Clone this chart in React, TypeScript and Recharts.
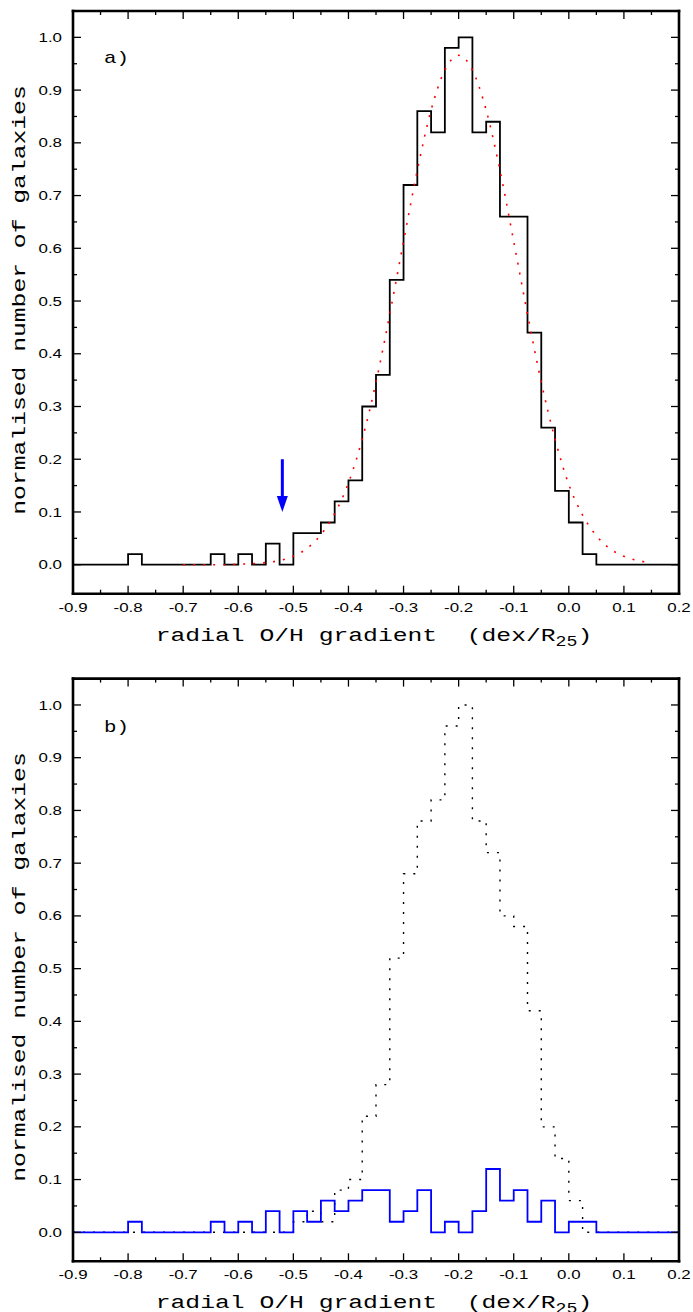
import React from 'react';
import { ComposedChart, Line, XAxis, YAxis, ReferenceLine, ReferenceDot, Customized } from 'recharts';

// bin edges (0.025 dex/R25 bins) from -0.9 to 0.2
const binEdges = [
  -0.9, -0.875, -0.85, -0.825, -0.8, -0.775, -0.75, -0.725, -0.7, -0.675,
  -0.65, -0.625, -0.6, -0.575, -0.55, -0.525, -0.5, -0.475, -0.45, -0.425,
  -0.4, -0.375, -0.35, -0.325, -0.3, -0.275, -0.25, -0.225, -0.2, -0.175,
  -0.15, -0.125, -0.1, -0.075, -0.05, -0.025, 0, 0.025, 0.05, 0.075,
  0.1, 0.125, 0.15, 0.175, 0.2,
];

// panel a: full sample histogram (value of the bin starting at each edge)
const histA = [
  0, 0, 0, 0, 0.02, 0, 0, 0, 0, 0,
  0.02, 0, 0.02, 0, 0.04, 0, 0.06, 0.06, 0.08, 0.12,
  0.16, 0.30, 0.36, 0.54, 0.72, 0.86, 0.82, 0.98, 1.0, 0.82,
  0.84, 0.66, 0.66, 0.44, 0.26, 0.14, 0.08, 0.02, 0, 0,
  0, 0, 0, 0, 0,
];

// panel a: gaussian fit (red dotted), read at these x positions
const fitX = [
  -0.7, -0.675, -0.65, -0.625, -0.6, -0.575, -0.55, -0.525, -0.5, -0.475,
  -0.45, -0.425, -0.4, -0.375, -0.35, -0.325, -0.3, -0.275, -0.25, -0.225,
  -0.2, -0.175, -0.15, -0.125, -0.1, -0.075, -0.05, -0.025, 0, 0.025,
  0.05, 0.075, 0.1, 0.125, 0.15,
];
const fitY = [
  0.0, 0.0, 0.0, 0.0, 0.001, 0.002, 0.004, 0.008, 0.016, 0.031,
  0.057, 0.097, 0.155, 0.238, 0.346, 0.475, 0.613, 0.748, 0.862, 0.938,
  0.966, 0.938, 0.862, 0.748, 0.613, 0.475, 0.346, 0.238, 0.152, 0.094,
  0.055, 0.03, 0.016, 0.008, 0.004,
];

// panel b: comparison histogram (black dotted)
const histB = [
  0, 0, 0, 0, 0, 0, 0, 0, 0, 0,
  0, 0, 0, 0, 0, 0, 0.02, 0.04, 0.02, 0.08,
  0.10, 0.22, 0.28, 0.52, 0.68, 0.78, 0.82, 0.96, 1.0, 0.78,
  0.72, 0.60, 0.58, 0.42, 0.20, 0.14, 0.06, 0, 0, 0,
  0, 0, 0, 0, 0,
];

// panel b: sub-sample histogram (blue)
const histBlue = [
  0, 0, 0, 0, 0.02, 0, 0, 0, 0, 0,
  0.02, 0, 0.02, 0, 0.04, 0, 0.04, 0.02, 0.06, 0.04,
  0.06, 0.08, 0.08, 0.02, 0.04, 0.08, 0, 0.02, 0, 0.04,
  0.12, 0.06, 0.08, 0.02, 0.06, 0, 0.02, 0.02, 0, 0,
  0, 0, 0, 0, 0,
];

const xTicks = [
  -0.9, -0.85, -0.8, -0.75, -0.7, -0.65, -0.6, -0.55, -0.5, -0.45, -0.4, -0.35,
  -0.3, -0.25, -0.2, -0.15, -0.1, -0.05, 0, 0.05, 0.1, 0.15, 0.2,
];
const yTicks = [
  0, 0.05, 0.1, 0.15, 0.2, 0.25, 0.3, 0.35, 0.4, 0.45, 0.5,
  0.55, 0.6, 0.65, 0.7, 0.75, 0.8, 0.85, 0.9, 0.95, 1.0,
];

const arrowX = -0.52;
const arrowFrom = 0.2;
const arrowTo = 0.1;

const fitMap = new Map<number, number>(fitX.map((x, i) => [x, fitY[i]]));
const dataA = binEdges.map((x, i) => ({ x, hist: histA[i], fit: fitMap.has(x) ? fitMap.get(x) : null }));
const dataB = binEdges.map((x, i) => ({ x, other: histB[i], sub: histBlue[i] }));

const W = 693;
const X_DOMAIN: [number, number] = [-0.9, 0.2];
const Y_DOMAIN: [number, number] = [-0.055, 1.05];
const SANS = '"Liberation Sans", Arial, sans-serif';
const MONO = '"Liberation Mono", "Courier New", monospace';
const SX = 1.3;

const isMajor = (v: number) => Math.abs(v * 10 - Math.round(v * 10)) < 1e-6;
const fmt = (v: number) => (Math.abs(v) < 1e-9 ? 0 : v).toFixed(1);

const BottomTick = (p: any) => {
  const { x, y, payload } = p;
  const major = isMajor(payload.value);
  return (
    <g>
      <line x1={x} y1={y} x2={x} y2={y - (major ? 8 : 4)} stroke="#000" strokeWidth={1.3} />
      {major && (
        <text transform={`translate(${x},${y + 18}) scale(${SX},1)`} textAnchor="middle" fontFamily={SANS} fontSize={13} fill="#000">
          {fmt(payload.value)}
        </text>
      )}
    </g>
  );
};
const TopTick = (p: any) => {
  const { x, y, payload } = p;
  const major = isMajor(payload.value);
  return <line x1={x} y1={y} x2={x} y2={y + (major ? 8 : 4)} stroke="#000" strokeWidth={1.3} />;
};
const LeftTick = (p: any) => {
  const { x, y, payload } = p;
  const major = isMajor(payload.value);
  return (
    <g>
      <line x1={x} y1={y} x2={x + (major ? 8 : 4)} y2={y} stroke="#000" strokeWidth={1.3} />
      {major && (
        <text transform={`translate(${x - 11},${y + 4.6}) scale(${SX},1)`} textAnchor="end" fontFamily={SANS} fontSize={13} fill="#000">
          {fmt(payload.value)}
        </text>
      )}
    </g>
  );
};
const RightTick = (p: any) => {
  const { x, y, payload } = p;
  const major = isMajor(payload.value);
  return <line x1={x} y1={y} x2={x - (major ? 8 : 4)} y2={y} stroke="#000" strokeWidth={1.3} />;
};

const frameLine = { stroke: '#000', strokeWidth: 2.6, strokeLinecap: 'square' as const };

const Axes = () => null;

function axesFor() {
  return [
    <XAxis key="xb" xAxisId={0} dataKey="x" type="number" domain={X_DOMAIN} ticks={xTicks} interval={0} allowDataOverflow
      height={30} tickSize={0} tickMargin={0} tickLine={false} axisLine={frameLine} tick={<BottomTick />} />,
    <XAxis key="xt" xAxisId="top" orientation="top" dataKey="x" type="number" domain={X_DOMAIN} ticks={xTicks} interval={0} allowDataOverflow
      height={5} tickSize={0} tickMargin={0} tickLine={false} axisLine={frameLine} tick={<TopTick />} />,
    <YAxis key="yl" yAxisId={0} type="number" domain={Y_DOMAIN} ticks={yTicks} interval={0} allowDataOverflow
      width={40} tickSize={0} tickMargin={0} tickLine={false} axisLine={frameLine} tick={<LeftTick />} />,
    <YAxis key="yr" yAxisId="right" orientation="right" type="number" domain={Y_DOMAIN} ticks={yTicks} interval={0} allowDataOverflow
      width={5} tickSize={0} tickMargin={0} tickLine={false} axisLine={frameLine} tick={<RightTick />} />,
  ];
}

const Titles = ({ xTitleY, yTitleY, tag, tagY }: { xTitleY: number; yTitleY: number; tag: string; tagY: number }) => (
  <g>
    <text
      transform={`translate(374,${xTitleY}) scale(${SX},1)`}
      textAnchor="middle" fontFamily={MONO} fontSize={19} fill="#000"
      xmlSpace="preserve" style={{ whiteSpace: 'pre' }}
    >
      {'radial O/H gradient  (dex/R'}
      <tspan dy={5} fontSize={14}>25</tspan>
      <tspan dy={-5}>)</tspan>
    </text>
    <text
      transform={`translate(25,${yTitleY}) rotate(-90) scale(${SX},1)`}
      textAnchor="middle" fontFamily={MONO} fontSize={19} fill="#000"
    >
      normalised number of galaxies
    </text>
    <text transform={`translate(104,${tagY}) scale(${SX},1)`} fontFamily={MONO} fontSize={16} fill="#000">
      {tag}
    </text>
  </g>
);

const ArrowHead = (p: any) => {
  const { cx, cy } = p;
  return <polygon points={`${cx - 5.5},${cy - 16} ${cx + 5.5},${cy - 16} ${cx},${cy}`} fill="#0000ff" />;
};

export default function App() {
  return (
    <div style={{ position: 'absolute', left: 0, top: 0, width: W, height: 1312, background: '#fff' }}>
      <div style={{ position: 'absolute', left: 0, top: 0 }}>
        <ComposedChart width={W} height={650} data={dataA} margin={{ top: 6, right: 9, bottom: 26.3, left: 33 }}>
          {axesFor()}
          <Line dataKey="hist" type="stepAfter" stroke="#000" strokeWidth={1.8} dot={false} activeDot={false} isAnimationActive={false} />
          <Line dataKey="fit" type="monotone" stroke="#ff0000" strokeWidth={1.6} strokeDasharray="2 8" dot={false} activeDot={false} connectNulls={false} isAnimationActive={false} />
          <ReferenceLine segment={[{ x: arrowX, y: arrowFrom }, { x: arrowX, y: arrowTo + 0.025 }]} stroke="#0000ff" strokeWidth={3} />
          <ReferenceDot x={arrowX} y={arrowTo} r={6} shape={ArrowHead} />
          <Customized component={() => <Titles xTitleY={641} yTitleY={300} tag="a)" tagY={63} />} />
        </ComposedChart>
      </div>
      <div style={{ position: 'absolute', left: 0, top: 650 }}>
        <ComposedChart width={W} height={662} data={dataB} margin={{ top: 23.6, right: 9, bottom: 20.7, left: 33 }}>
          {axesFor()}
          <Line dataKey="other" type="stepAfter" stroke="#000" strokeWidth={1.4} strokeDasharray="2 8" dot={false} activeDot={false} isAnimationActive={false} />
          <Line dataKey="sub" type="stepAfter" stroke="#0000ff" strokeWidth={1.8} dot={false} activeDot={false} isAnimationActive={false} />
          <Customized component={() => <Titles xTitleY={658.3} yTitleY={317} tag="b)" tagY={82} />} />
        </ComposedChart>
      </div>
    </div>
  );
}
